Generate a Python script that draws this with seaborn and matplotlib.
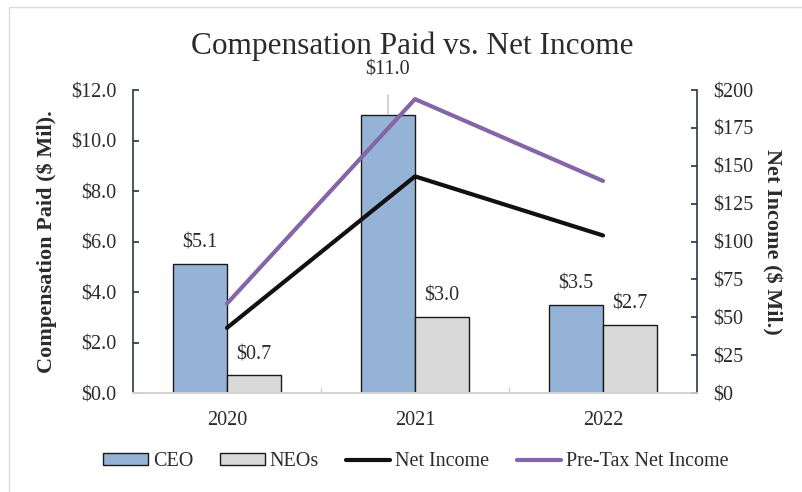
import matplotlib
matplotlib.use("Agg")
import matplotlib.pyplot as plt
from matplotlib.patches import Patch
from matplotlib.lines import Line2D
import seaborn as sns
import pandas as pd

# ---- data ----
years = ["2020", "2021", "2022"]
ceo_pay = [5.1, 11.0, 3.5]          # $ millions
neo_pay = [0.7, 3.0, 2.7]           # $ millions
net_income = [43, 143, 104]         # $ millions
pretax_income = [59, 194, 140]      # $ millions
left_ticks = [0, 2, 4, 6, 8, 10, 12]
right_ticks = [0, 25, 50, 75, 100, 125, 150, 175, 200]

groups = ["CEO", "NEOs"]
bar_colors = {"CEO": "#94b3d6", "NEOs": "#d9d9d9"}
edge = "#1a1a1a"
spine_col = "#2a3b4c"
text_col = "#2b2b2b"
fs = 14.5

sns.set_theme(style="white")
plt.rcParams["font.family"] = ["Liberation Serif", "DejaVu Serif"]

df = pd.DataFrame({
    "Year": years * 2,
    "Group": ["CEO"] * 3 + ["NEOs"] * 3,
    "Value": ceo_pay + neo_pay,
})

fig = plt.figure(figsize=(8.03, 4.92), dpi=100)
ax = fig.add_axes([0.1656, 0.2012, 0.7024, 0.6158])

sns.barplot(data=df, x="Year", y="Value", hue="Group", hue_order=groups,
            palette=bar_colors, width=0.575, edgecolor=edge, linewidth=1.0,
            saturation=1, ax=ax, legend=False)

ax.set_ylim(0, 12)
ax.set_xlim(-0.5, 2.5)
ax.set_yticks(left_ticks)
ax.set_yticklabels([f"${v:.1f}" for v in left_ticks])
ax.set_xlabel("")
ax.set_ylabel("Compensation Paid ($ Mil).", fontsize=16, fontweight="bold",
              color=text_col, labelpad=10)

# value labels over the bars
for cont in ax.containers:
    for bar in cont:
        h = bar.get_height()
        cx = bar.get_x() + bar.get_width() / 2
        if h > 10:
            ax.annotate(f"${h:.1f}", xy=(cx, h + 0.05), xytext=(0, 32),
                        textcoords="offset points", ha="center", va="center",
                        fontsize=fs, color=text_col, annotation_clip=False,
                        arrowprops=dict(arrowstyle="-", color="#b0b0b0", lw=0.8,
                                        shrinkA=9, shrinkB=0))
        else:
            ax.annotate(f"${h:.1f}", xy=(cx, h), xytext=(0, 15),
                        textcoords="offset points", ha="center", va="center",
                        fontsize=fs, color=text_col)

# income lines on the secondary axis
ax2 = ax.twinx()
sns.lineplot(x=[0, 1, 2], y=net_income, color="#111111", lw=3, ax=ax2)
sns.lineplot(x=[0, 1, 2], y=pretax_income, color="#8466a8", lw=3, ax=ax2)
ax2.set_ylim(0, 200)
ax2.set_xlim(-0.5, 2.5)
ax2.set_yticks(right_ticks)
ax2.set_yticklabels([f"${v}" for v in right_ticks])
ax2.set_ylabel("Net Income ($ Mil.)", fontsize=16, fontweight="bold",
               color=text_col, rotation=270, labelpad=20)

for a in (ax, ax2):
    a.spines["top"].set_visible(False)
    a.spines["left"].set_color(spine_col)
    a.spines["right"].set_color(spine_col)
    a.spines["bottom"].set_color("#d4d4d4")
    a.spines["left"].set_linewidth(1.2)
    a.spines["right"].set_linewidth(1.2)
    a.tick_params(axis="y", direction="in", length=4, color=spine_col,
                  labelsize=fs, labelcolor=text_col, pad=12)
ax2.spines["left"].set_visible(False)
ax.spines["right"].set_visible(False)

ax.set_xticks([0, 1, 2])
ax.set_xticklabels(years)
ax.set_xticks([0.5, 1.5], minor=True)
ax.tick_params(axis="x", which="major", length=0, labelsize=fs,
               labelcolor=text_col, pad=13)
ax.tick_params(axis="x", which="minor", direction="in", length=4,
               color="#d4d4d4", bottom=True)

fig.text(0.514, 1 - 46 / 492, "Compensation Paid vs. Net Income", fontsize=22.5,
         color=text_col, ha="center", va="center")

handles = [
    Patch(facecolor=bar_colors["CEO"], edgecolor=edge, linewidth=1.0, label="CEO"),
    Patch(facecolor=bar_colors["NEOs"], edgecolor=edge, linewidth=1.0, label="NEOs"),
    Line2D([0], [0], color="#111111", lw=3, label="Net Income"),
    Line2D([0], [0], color="#8466a8", lw=3, label="Pre-Tax Net Income"),
]
leg = fig.legend(handles=handles, loc="center", bbox_to_anchor=(0.518, 1 - 462 / 492),
                 ncol=4, frameon=False, fontsize=fs, handlelength=2.2,
                 handleheight=0.55, handletextpad=0.25, columnspacing=1.35)
for t in leg.get_texts():
    t.set_color(text_col)

# faint frame along the top and left edges
fig.add_artist(Line2D([9 / 803, 9 / 803], [0, 1 - 7 / 492], color="#dcdcdc",
                      lw=1, transform=fig.transFigure))
fig.add_artist(Line2D([9 / 803, 1], [1 - 7 / 492, 1 - 7 / 492], color="#dcdcdc",
                      lw=1, transform=fig.transFigure))

fig.savefig("out.png", dpi=100)
